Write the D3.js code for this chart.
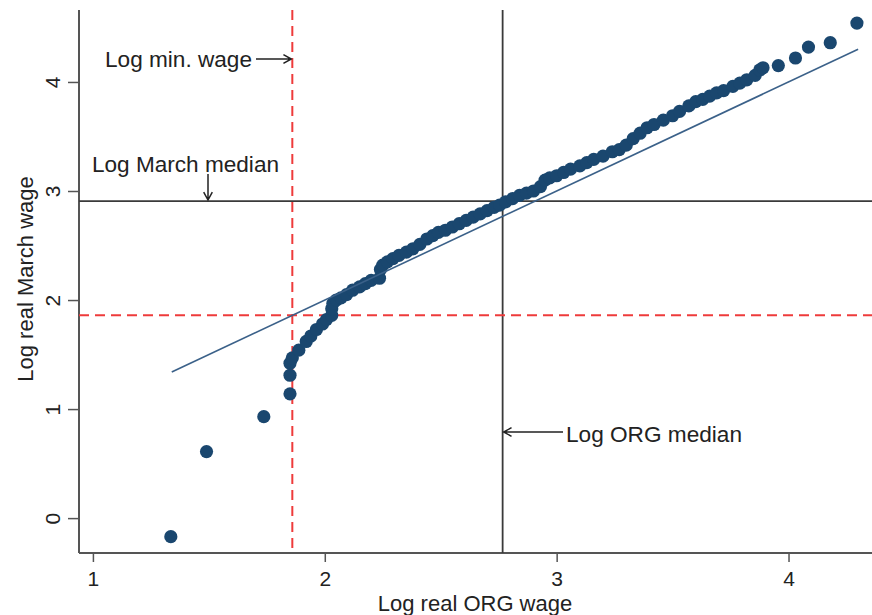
<!DOCTYPE html>
<html>
<head>
<meta charset="utf-8">
<script src="https://cdnjs.cloudflare.com/ajax/libs/d3/7.8.5/d3.min.js"></script>
<style>
    body { margin: 0; background: #fff; }
    text { font-family: 'Liberation Sans', Arial, sans-serif; }
</style>
</head>
<body>
<div id="qq_svg"></div>
<script>
// quantiles
var org_quantiles = [1.336, 1.49, 1.737, 1.85, 1.85, 1.85, 1.86, 1.888, 1.92, 1.94, 1.964, 1.99, 2.007, 2.03, 2.03, 2.035,
    2.05, 2.07, 2.094, 2.12, 2.15, 2.175, 2.2, 2.236, 2.24, 2.25, 2.27, 2.294, 2.32, 2.352, 2.38, 2.41, 2.44, 2.466, 2.49,
    2.52, 2.55, 2.58, 2.61, 2.64, 2.67, 2.70, 2.73, 2.754, 2.78, 2.81, 2.84, 2.87, 2.90, 2.93, 2.95, 2.97, 3.0, 3.03, 3.06,
    3.1, 3.13, 3.16, 3.2, 3.24, 3.27, 3.3, 3.33, 3.36, 3.39, 3.42, 3.46, 3.5, 3.53, 3.57, 3.6, 3.63, 3.66, 3.69, 3.72,
    3.76, 3.79, 3.82, 3.856, 3.876, 3.89, 3.956, 4.03, 4.086, 4.18, 4.295];
var march_quantiles = [-0.17, 0.61, 0.93, 1.14, 1.31, 1.42, 1.47, 1.54, 1.62, 1.67, 1.73, 1.78, 1.82, 1.86, 1.92, 1.97,
    2.0, 2.02, 2.05, 2.09, 2.12, 2.15, 2.18, 2.2, 2.28, 2.32, 2.35, 2.38, 2.41, 2.44, 2.47, 2.51, 2.56, 2.59, 2.62,
    2.64, 2.67, 2.70, 2.73, 2.76, 2.79, 2.82, 2.85, 2.87, 2.90, 2.93, 2.96, 2.98, 3.00, 3.04, 3.10, 3.12, 3.14, 3.17, 3.20,
    3.23, 3.26, 3.29, 3.32, 3.36, 3.38, 3.42, 3.48, 3.53, 3.58, 3.61, 3.65, 3.69, 3.73, 3.78, 3.82, 3.84, 3.87, 3.90, 3.92,
    3.96, 3.99, 4.02, 4.06, 4.11, 4.13, 4.15, 4.22, 4.32, 4.36, 4.54];

var x_ticks = [1, 2, 3, 4];
var y_ticks = [0, 1, 2, 3, 4];

// reference lines
var log_min_wage = 1.86;
var log_org_median = 2.767;
var log_march_median = 2.908;
var diag_range = [1.34, 4.30];

var points = org_quantiles.map(function(d, i) {
    return { org: d, march: march_quantiles[i] };
});

var svg = d3.select('#qq_svg')
    .append('svg')
    .attr('width', 872)
    .attr('height', 615);

var plot_left = 79, plot_right = 872, plot_top = 10, plot_bottom = 553;

var x = d3.scaleLinear().domain([0.94, 4.36]).range([plot_left, plot_right]);
var y = d3.scaleLinear().domain([-0.32, 4.66]).range([plot_bottom, plot_top]);

var navy = '#1a476f';
var red = '#ee3b3b';
var dark = '#3a3a3a';
var font = "'Liberation Sans', Arial, sans-serif";

// axes
var xAxis = svg.append('g')
    .attr('transform', 'translate(0,' + plot_bottom + ')')
    .call(d3.axisBottom(x).tickValues(x_ticks).tickSize(9).tickPadding(9).tickFormat(d3.format('d')));
var yAxis = svg.append('g')
    .attr('transform', 'translate(' + plot_left + ',0)')
    .call(d3.axisLeft(y).tickValues(y_ticks).tickSize(11).tickFormat(d3.format('d')));

[xAxis, yAxis].forEach(function(ax) {
    ax.select('.domain').remove();
    ax.selectAll('line').attr('stroke', '#555').attr('stroke-width', 1.5);
    ax.selectAll('text').attr('font-size', '21px').attr('fill', '#222')
        .style('font-family', font);
});

// rotate y tick labels like stata
yAxis.selectAll('.tick text')
    .attr('text-anchor', 'middle')
    .attr('x', 0)
    .attr('dy', 0)
    .attr('transform', 'translate(-19,0) rotate(-90)');

// axis lines
svg.append('line')
    .attr('x1', plot_left).attr('x2', plot_left).attr('y1', plot_top).attr('y2', plot_bottom)
    .attr('stroke', '#555').attr('stroke-width', 2);
svg.append('line')
    .attr('x1', plot_left).attr('x2', plot_right).attr('y1', plot_bottom).attr('y2', plot_bottom)
    .attr('stroke', '#555').attr('stroke-width', 2);

// median lines
svg.append('line')
    .attr('x1', x(log_org_median)).attr('x2', x(log_org_median))
    .attr('y1', plot_top).attr('y2', plot_bottom)
    .attr('stroke', dark).attr('stroke-width', 1.8);
svg.append('line')
    .attr('x1', plot_left).attr('x2', plot_right)
    .attr('y1', y(log_march_median)).attr('y2', y(log_march_median))
    .attr('stroke', dark).attr('stroke-width', 1.8);

// min wage dashed lines
svg.append('line')
    .attr('x1', x(log_min_wage)).attr('x2', x(log_min_wage))
    .attr('y1', plot_top).attr('y2', plot_bottom)
    .attr('stroke', red).attr('stroke-width', 2).attr('stroke-dasharray', '10,6');
svg.append('line')
    .attr('x1', plot_left).attr('x2', plot_right)
    .attr('y1', y(log_min_wage)).attr('y2', y(log_min_wage))
    .attr('stroke', red).attr('stroke-width', 2).attr('stroke-dasharray', '10,6');

// the points
svg.append('g')
    .selectAll('circle')
    .data(points)
    .enter()
    .append('circle')
    .attr('cx', function(d) { return x(d.org); })
    .attr('cy', function(d) { return y(d.march); })
    .attr('r', 6.6)
    .attr('fill', navy);

// 45 degree line
svg.append('line')
    .attr('x1', x(diag_range[0])).attr('y1', y(diag_range[0]))
    .attr('x2', x(diag_range[1])).attr('y2', y(diag_range[1]))
    .attr('stroke', '#3b6189').attr('stroke-width', 1.6);

// arrow helper: line from (x1,y1) to (x2,y2) with open head at the end
function arrow(x1, y1, x2, y2) {
    var a = Math.atan2(y2 - y1, x2 - x1);
    var len = 9, spread = 0.5;
    var p1 = [x2 - len * Math.cos(a - spread), y2 - len * Math.sin(a - spread)];
    var p2 = [x2 - len * Math.cos(a + spread), y2 - len * Math.sin(a + spread)];
    svg.append('path')
        .attr('d', 'M' + x1 + ',' + y1 + 'L' + x2 + ',' + y2 +
            'M' + p1[0] + ',' + p1[1] + 'L' + x2 + ',' + y2 + 'L' + p2[0] + ',' + p2[1])
        .attr('fill', 'none')
        .attr('stroke', '#222')
        .attr('stroke-width', 1.5);
}

// annotations
svg.append('text')
    .attr('x', 105).attr('y', 67)
    .attr('font-size', '22px').attr('fill', '#222')
    .attr('textLength', 147).attr('lengthAdjust', 'spacingAndGlyphs')
    .text('Log min. wage');
arrow(256, 59, x(log_min_wage) - 1, 59);

svg.append('text')
    .attr('x', 92).attr('y', 172)
    .attr('font-size', '22px').attr('fill', '#222')
    .attr('textLength', 187).attr('lengthAdjust', 'spacingAndGlyphs')
    .text('Log March median');
arrow(208, 174, 208, y(log_march_median) - 1);

svg.append('text')
    .attr('x', 566).attr('y', 442)
    .attr('font-size', '22px').attr('fill', '#222')
    .attr('textLength', 176).attr('lengthAdjust', 'spacingAndGlyphs')
    .text('Log ORG median');
arrow(563, 432, x(log_org_median) + 1, 432);

// axis titles
svg.append('text')
    .attr('x', 475).attr('y', 611)
    .attr('text-anchor', 'middle')
    .attr('font-size', '22px').attr('fill', '#222')
    .text('Log real ORG wage');

svg.append('text')
    .attr('transform', 'translate(33,' + 279 + ') rotate(-90)')
    .attr('text-anchor', 'middle')
    .attr('font-size', '22px').attr('fill', '#222')
    .text('Log real March wage');
</script>
</body>
</html>
